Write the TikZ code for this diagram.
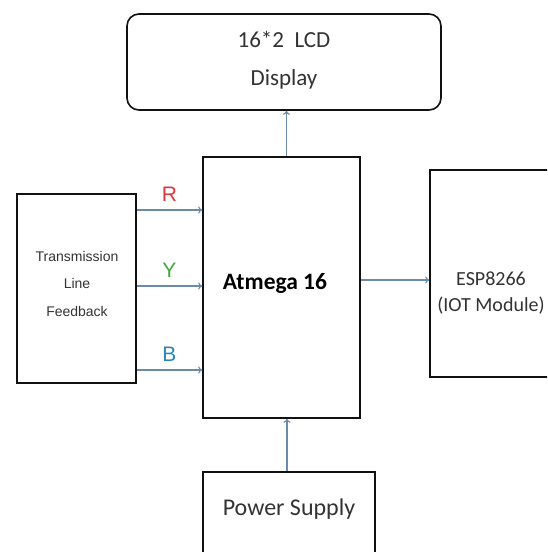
\documentclass[tikz,border=0pt]{standalone}
\usepackage{fontspec}
\setmainfont{Carlito}
\newfontfamily\arialfont{Liberation Sans}
\usetikzlibrary{arrows.meta,positioning}
\definecolor{wire}{HTML}{6A8CAB}
\definecolor{phaser}{HTML}{D8393B}
\definecolor{phasey}{HTML}{3DA83F}
\definecolor{phaseb}{HTML}{2E86B8}
\definecolor{ink}{HTML}{111111}
\definecolor{textgray}{HTML}{333333}
\tikzset{
  blockbox/.style={
    draw=ink,
    line width=1.6pt,
    fill=white,
    inner sep=0pt
  },
  blocktext/.style={
    text=textgray,
    align=center,
    inner sep=0pt,
    font=\fontsize{24}{28}\selectfont
  },
  sigarrow/.style={-{To[length=4pt,width=7pt]},line width=1.2pt,draw=wire},
  phaselabel/.style={font=\arialfont\fontsize{21}{21}\selectfont,inner sep=0pt}
}

\begin{document}
\begin{tikzpicture}[x=1pt,y=-1pt]
\useasboundingbox[fill=white] (0,0) rectangle (547,552);
\clip (0,0) rectangle (547,552);
% blocks
\node[blockbox,rounded corners=12pt,minimum width=314pt,minimum height=96pt] (lcd) at (284,62) {};
\node[blocktext,font=\fontsize{23}{38}\selectfont] (lcdtext) at (284,60) {16*2\ \ LCD\\Display};
\node[blockbox,minimum width=157pt,minimum height=261pt] (mcu) at (281.5,287.5) {};
\node[blocktext,text=black,font=\bfseries\fontsize{23.5}{26}\selectfont] (mcutext) at (275,283) {Atmega 16};
\node[blockbox,minimum width=119pt,minimum height=189pt] (feedback) at (76.5,288.5) {};
\node[blocktext,font=\arialfont\fontsize{14}{27.5}\selectfont] (fbtext) at (77,283.5) {Transmission\\Line\\Feedback};
\node[blockbox,minimum width=140pt,minimum height=207pt] (esp) at (500,273.5) {};
\node[blocktext,font=\fontsize{20}{26}\selectfont] (esptext) at (491,293) {ESP8266\\(IOT Module)};
\node[blockbox,minimum width=172pt,minimum height=110pt] (power) at (289,527) {};
\node[blocktext,below=27pt of power.north] (powertext) {Power Supply};
% connectors
\draw[sigarrow] ([xshift=5pt]mcu.north) -- ([xshift=5pt]mcu.north |- lcd.south);
\draw[sigarrow] ([xshift=-2pt]power.north) -- ([xshift=-2pt]power.north |- mcu.south);
\draw[sigarrow] (mcu.east |- 0,280) -- (esp.west |- 0,280);
\foreach \yy/\ph/\col in {210/R/phaser,286/Y/phasey,370/B/phaseb}
  \draw[sigarrow] (feedback.east |- 0,\yy) -- (mcu.west |- 0,\yy)
    node[phaselabel,text=\col,midway,above=8pt] {\ph};
\end{tikzpicture}
\end{document}
